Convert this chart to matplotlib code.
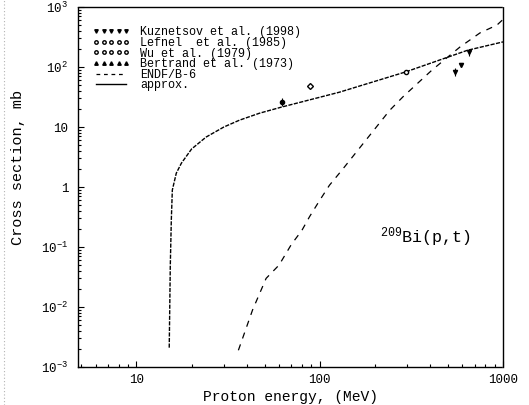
import matplotlib
matplotlib.use('Agg')

import matplotlib.pyplot as plt
from matplotlib.lines import Line2D
import numpy as np

# ------------------------------------------
# data
# ------------------------------------------
approx_E = [15.1, 15.3, 15.5, 15.7, 16.5, 17.6, 20, 24, 30, 36.5, 47, 62, 128, 295, 640, 1000]
approx_sig = [0.0021, 0.047, 0.28, 0.89, 1.7, 2.5, 4.3, 6.8, 10, 13, 17, 21.5, 38, 83, 190, 262]

endf_E = [36, 43, 51, 60, 70, 80, 88, 100, 113, 132, 241, 285, 410, 582, 749, 927, 1000]
endf_sig = [0.0019, 0.0089, 0.030, 0.050, 0.11, 0.19, 0.32, 0.6, 1.07, 1.9, 19, 32, 89, 215, 370, 500, 620]

kuz_E = [550, 590, 650]
kuz_sig = [83, 108, 178]
kuz_err = [12, 0, 25]

lef_E = [295]
lef_sig = [83]

wu_E = [62]
wu_sig = [26]
wu_err = [4]

bert_E = [89]
bert_sig = [48]

yticks = [1e-3, 1e-2, 1e-1, 1, 10, 1e2, 1e3]
ytick_labels = ['$10^{-3}$', '$10^{-2}$', '$10^{-1}$', '1', '10', '$10^{2}$', '$10^{3}$']
xticks = [10, 100, 1000]
xtick_labels = ['10', '100', '1000']

plt.rcParams['font.family'] = ['Liberation Mono', 'DejaVu Sans Mono']
plt.rcParams['mathtext.fontset'] = 'custom'
plt.rcParams['mathtext.rm'] = 'Liberation Mono'
plt.rcParams['mathtext.it'] = 'Liberation Mono'

fig = plt.figure(figsize=(5.29, 4.05), dpi=100)
ax = fig.add_axes([78 / 529, 1 - 367 / 405, 425 / 529, 360 / 405])

ax.plot(approx_E, approx_sig, color='black', lw=1.0, ls=(0, (3, 1)), label='approx.')
ax.plot(endf_E, endf_sig, color='black', lw=0.9, ls=(0, (5, 5)), label='ENDF/B-6')

ax.errorbar(kuz_E, kuz_sig, yerr=kuz_err, fmt='v', ms=3, color='black', mfc='black',
            elinewidth=0.8, capsize=0, label='Kuznetsov et al. (1998)')
ax.plot(lef_E, lef_sig, 'o', ms=3, color='black', mfc='white', label='Lefnel  et al. (1985)')
ax.errorbar(wu_E, wu_sig, yerr=wu_err, fmt='o', ms=3, color='black', mfc='black',
            elinewidth=0.8, capsize=0, label='Wu et al. (1979)')
ax.plot(bert_E, bert_sig, 'D', ms=3, color='black', mfc='white', label='Bertrand et al. (1973)')

ax.set_xscale('log')
ax.set_yscale('log')
ax.set_xlim(4.8, 1000)
ax.set_ylim(1e-3, 1e3)
ax.set_xticks(xticks)
ax.set_xticklabels(xtick_labels, fontsize=9)
ax.set_yticks(yticks)
ax.set_yticklabels(ytick_labels, fontsize=9)
ax.tick_params(which='both', direction='in', top=False, right=False, width=0.8)
ax.tick_params(which='major', length=4, pad=7)
ax.tick_params(axis='x', which='major', pad=5)
ax.tick_params(which='minor', length=2)

for sp in ax.spines.values():
    sp.set_linestyle((0, (1, 1)))
    sp.set_linewidth(1.0)

ax.set_xlabel('Proton energy, (MeV)', fontsize=10.5, va='center')
ax.xaxis.set_label_coords(0.5, -0.083)
ax.set_ylabel('Cross section, mb', fontsize=11, va='center')
ax.yaxis.set_label_coords(-0.141, 0.553)

ax.text(0.71, 0.36, '$^{209}$Bi(p,t)', transform=ax.transAxes, fontsize=12,
        ha='left', va='center')

# legend in the order of the original
handles = [
    Line2D([], [], ls='none', marker='v', ms=2.5, color='black'),
    Line2D([], [], ls='none', marker='o', ms=2.5, color='black', mfc='white'),
    Line2D([], [], ls='none', marker='o', ms=2.5, color='black', mfc='white'),
    Line2D([], [], ls='none', marker='^', ms=2.5, color='black'),
    Line2D([], [], color='black', lw=0.9, ls=(0, (3, 3))),
    Line2D([], [], color='black', lw=1.0),
]
labels = ['Kuznetsov et al. (1998)', 'Lefnel  et al. (1985)', 'Wu et al. (1979)',
          'Bertrand et al. (1973)', 'ENDF/B-6', 'approx.']
ax.legend(handles, labels, loc='upper left', bbox_to_anchor=(0.035, 0.946),
          borderaxespad=0, frameon=False, fontsize=8.5, numpoints=5,
          handlelength=3.1, handletextpad=0.9, labelspacing=-0.12, borderpad=0)

# faint dotted scan edge on the far left
fig.add_artist(Line2D([0.008, 0.008], [0.0, 1.0], transform=fig.transFigure,
                      color='0.7', lw=0.8, ls=(0, (1, 2))))

fig.savefig('out.png', dpi=100)
